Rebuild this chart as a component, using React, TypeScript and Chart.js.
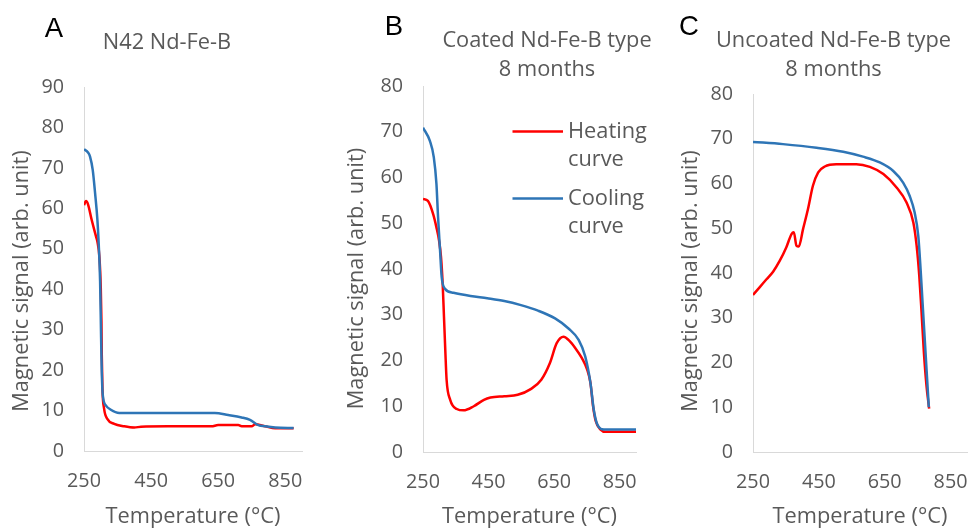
import React, { useEffect, useRef } from "react";
import { Chart, registerables } from "chart.js";

Chart.register(...registerables);

// ---------- data ----------
const xTickValues = [250, 450, 650, 850];

// Panel A: N42 Nd-Fe-B
const aHeatT = [250, 256, 262, 273, 286, 290, 296, 300, 302, 303, 305, 310, 320, 340, 370, 400, 420, 500, 630, 650, 710, 720, 750, 760, 790, 820, 875];
const aHeatV = [60.8, 61.8, 61.0, 57.1, 53.0, 51.7, 47.9, 40.4, 32, 23.8, 15.4, 10.4, 7.9, 6.7, 6.1, 5.8, 6.0, 6.1, 6.1, 6.4, 6.4, 6.1, 6.1, 6.6, 6.1, 5.6, 5.6];
const aCoolT = [250, 262, 268, 276, 283, 290, 294, 298, 301, 303, 306, 315, 330, 355, 450, 640, 680, 720, 745, 770, 790, 820, 875];
const aCoolV = [74.6, 73.8, 72.8, 69.5, 63.8, 57.1, 51.0, 42.0, 28.0, 19.6, 13.8, 11.3, 10.2, 9.4, 9.4, 9.4, 8.9, 8.3, 7.7, 6.4, 6.1, 5.8, 5.7];

// Panel B: Coated Nd-Fe-B type, 8 months
const bHeatT = [250, 265, 281, 291, 299, 305, 310, 314, 318, 322, 333, 353, 374, 405, 436, 456, 498, 539, 580, 611, 637, 658, 679, 694, 715, 735, 751, 761, 769, 777, 792, 807, 900];
const bHeatV = [55.3, 54.9, 52.0, 49.1, 46.2, 42.6, 36.8, 29.6, 22.3, 15.8, 11.4, 9.4, 9.1, 10.0, 11.4, 11.9, 12.2, 12.5, 13.8, 15.8, 19.4, 23.8, 25.2, 24.5, 22.7, 20.5, 18.0, 15.1, 10.0, 6.8, 4.9, 4.4, 4.4];
const bCoolT = [250, 271, 283, 291, 296, 302, 307, 317, 343, 395, 446, 498, 549, 601, 653, 694, 725, 745, 761, 771, 782, 802, 900];
const bCoolV = [70.9, 68.0, 64.4, 58.6, 51.3, 44.1, 38.3, 35.7, 34.8, 34.1, 33.6, 33.0, 32.1, 30.9, 29.2, 27.0, 24.5, 20.9, 15.1, 9.3, 6.0, 4.9, 4.9];

// Panel C: Uncoated Nd-Fe-B type, 8 months
const cHeatT = [250, 270, 291, 311, 331, 351, 367, 374, 382, 389, 402, 417, 432, 448, 468, 503, 564, 605, 646, 686, 716, 737, 747, 755, 762, 769, 777, 785];
const cHeatV = [35.1, 36.8, 38.6, 40.3, 42.7, 45.7, 48.7, 49.1, 46.1, 45.9, 49.8, 54.3, 59.5, 62.5, 63.8, 64.3, 64.3, 63.7, 62.1, 59.1, 55.8, 51.3, 46.1, 39.4, 31.2, 22.3, 14.8, 9.7];
const cCoolT = [250, 341, 443, 524, 584, 635, 676, 706, 726, 741, 752, 759, 765, 771, 777, 784];
const cCoolV = [69.3, 68.8, 68.0, 67.1, 66.0, 64.7, 62.8, 60.2, 57.2, 53.5, 48.3, 40.9, 33.4, 26.0, 18.6, 10.0];

const seriesNames = ["Heating curve", "Cooling curve"];
const xTitle = "Temperature (°C)";
const yTitle = "Magnetic signal (arb. unit)";

// ---------- styling ----------
const FONT = "'Open Sans', 'Noto Sans', sans-serif";
const GREY = "#595959";
const RED = "#FF0000";
const BLUE = "#2E75B6";
const AXIS = "#D9D9D9";
const TICK_SIZE = 19.75;
const TITLE_SIZE = 21.8;

type PanelSpec = {
  left: number;
  width: number;
  letter: string;
  letterX: number;
  letterY: number;
  titleLines: string[];
  titleX: number;
  titleY: number;
  yTitleX: number;
  yTitleY: number;
  yMax: number;
  axisX: number;
  axisEnd: number;
  plotTop: number;
  plotBottom: number;
  heatT: number[];
  heatV: number[];
  coolT: number[];
  coolV: number[];
  legend?: { x1: number; x2: number; textX: number; y: number[]; lineGap: number };
};

const panels: PanelSpec[] = [
  {
    left: 0, width: 335, letter: "A", letterX: 54, letterY: 29,
    titleLines: ["N42 Nd-Fe-B"], titleX: 167, titleY: 42.5,
    yTitleX: 21.5, yTitleY: 281, yMax: 90,
    axisX: 84, axisEnd: 302, plotTop: 87, plotBottom: 451,
    heatT: aHeatT, heatV: aHeatV, coolT: aCoolT, coolV: aCoolV,
  },
  {
    left: 335, width: 325, letter: "B", letterX: 394, letterY: 27.5,
    titleLines: ["Coated Nd-Fe-B type", "8 months"], titleX: 547, titleY: 40.5,
    yTitleX: 356.5, yTitleY: 278.5, yMax: 80,
    axisX: 423, axisEnd: 636, plotTop: 86, plotBottom: 452,
    heatT: bHeatT, heatV: bHeatV, coolT: bCoolT, coolV: bCoolV,
    legend: { x1: 512.5, x2: 563, textX: 568, y: [131.5, 198.5], lineGap: 27.9 },
  },
  {
    left: 660, width: 310, letter: "C", letterX: 689, letterY: 27.5,
    titleLines: ["Uncoated Nd-Fe-B type", "8 months"], titleX: 833.5, titleY: 40.5,
    yTitleX: 690.5, yTitleY: 281, yMax: 80,
    axisX: 753, axisEnd: 967, plotTop: 94, plotBottom: 452,
    heatT: cHeatT, heatV: cHeatV, coolT: cCoolT, coolV: cCoolV,
  },
];

function toPoints(xs: number[], ys: number[]) {
  return xs.map((x, i) => ({ x, y: ys[i] }));
}

function textPlugin(p: PanelSpec) {
  return {
    id: "panelText" + p.letter,
    afterDraw(chart: any) {
      const ctx: CanvasRenderingContext2D = chart.ctx;
      const L = p.left;
      ctx.save();
      ctx.fillStyle = "#000";
      ctx.font = `27.5px 'Liberation Sans', Arial, sans-serif`;
      ctx.textAlign = "center";
      ctx.textBaseline = "middle";
      ctx.fillText(p.letter, p.letterX - L, p.letterY);
      ctx.fillStyle = GREY;
      ctx.font = `${TITLE_SIZE}px ${FONT}`;
      p.titleLines.forEach((t, i) => ctx.fillText(t, p.titleX - L, p.titleY + i * 29));
      ctx.save();
      ctx.translate(p.yTitleX - L, p.yTitleY);
      ctx.rotate(-Math.PI / 2);
      ctx.fillText(yTitle, 0, 0);
      ctx.restore();
      if (p.legend) {
        const lg = p.legend;
        chart.data.datasets.forEach((d: any, i: number) => {
          const y = lg.y[i];
          ctx.strokeStyle = d.borderColor;
          ctx.lineWidth = 2.5;
          ctx.beginPath();
          ctx.moveTo(lg.x1 - L, y);
          ctx.lineTo(lg.x2 - L, y);
          ctx.stroke();
          ctx.fillStyle = GREY;
          ctx.textAlign = "left";
          String(d.label).split(" ").forEach((w, j) => ctx.fillText(w, lg.textX - L, y + j * lg.lineGap));
        });
      }
      ctx.restore();
    },
  };
}

function Panel({ p }: { p: PanelSpec }) {
  const ref = useRef<HTMLCanvasElement>(null);
  useEffect(() => {
    const yW = p.axisX - p.left;
    const xH = 530 - p.plotBottom;
    const chart = new Chart(ref.current as HTMLCanvasElement, {
      type: "line",
      data: {
        datasets: [
          { label: seriesNames[0], data: toPoints(p.heatT, p.heatV), borderColor: RED, backgroundColor: RED, order: 1 },
          { label: seriesNames[1], data: toPoints(p.coolT, p.coolV), borderColor: BLUE, backgroundColor: BLUE, order: 0 },
        ],
      },
      options: {
        animation: false,
        responsive: false,
        maintainAspectRatio: false,
        layout: { padding: { left: 0, right: p.left + p.width - p.axisEnd, top: p.plotTop, bottom: 0 } },
        elements: {
          point: { radius: 0, hoverRadius: 0 },
          line: { borderWidth: 2.5, cubicInterpolationMode: "monotone", fill: false },
        },
        plugins: { legend: { display: false }, tooltip: { enabled: false }, title: { display: false } },
        scales: {
          x: {
            type: "linear",
            min: 250,
            max: 900,
            afterBuildTicks: (s: any) => {
              s.ticks = xTickValues.map((v) => ({ value: v }));
            },
            afterFit: (s: any) => {
              s.height = xH;
              s.paddingLeft = 0;
              s.paddingRight = 0;
            },
            grid: { display: false, drawTicks: false, tickLength: 0 },
            border: { display: true, color: AXIS, width: 1 },
            ticks: { color: GREY, font: { family: FONT, size: TICK_SIZE }, padding: 18.5, maxRotation: 0, autoSkip: false },
            title: {
              display: true,
              text: xTitle,
              color: GREY,
              font: { family: FONT, size: TITLE_SIZE },
              padding: { top: 0, bottom: 0.5 },
            },
          },
          y: {
            type: "linear",
            min: 0,
            max: p.yMax,
            afterFit: (s: any) => {
              s.width = yW;
              s.paddingTop = 0;
              s.paddingBottom = 0;
            },
            grid: { display: false, drawTicks: false, tickLength: 0 },
            border: { display: true, color: AXIS, width: 1 },
            ticks: { stepSize: 10, color: GREY, font: { family: FONT, size: TICK_SIZE }, padding: 20 },
          },
        },
      } as any,
      plugins: [textPlugin(p)],
    });
    return () => chart.destroy();
  }, []);
  return (
    <div style={{ position: "absolute", left: p.left, top: 0, width: p.width, height: 530 }}>
      <canvas ref={ref} width={p.width} height={530} style={{ width: p.width, height: 530, display: "block" }} />
    </div>
  );
}

export default function App() {
  return (
    <div style={{ position: "absolute", left: 0, top: 0, width: 970, height: 530, background: "#fff", overflow: "hidden" }}>
      {panels.map((p) => (
        <Panel key={p.letter} p={p} />
      ))}
    </div>
  );
}
